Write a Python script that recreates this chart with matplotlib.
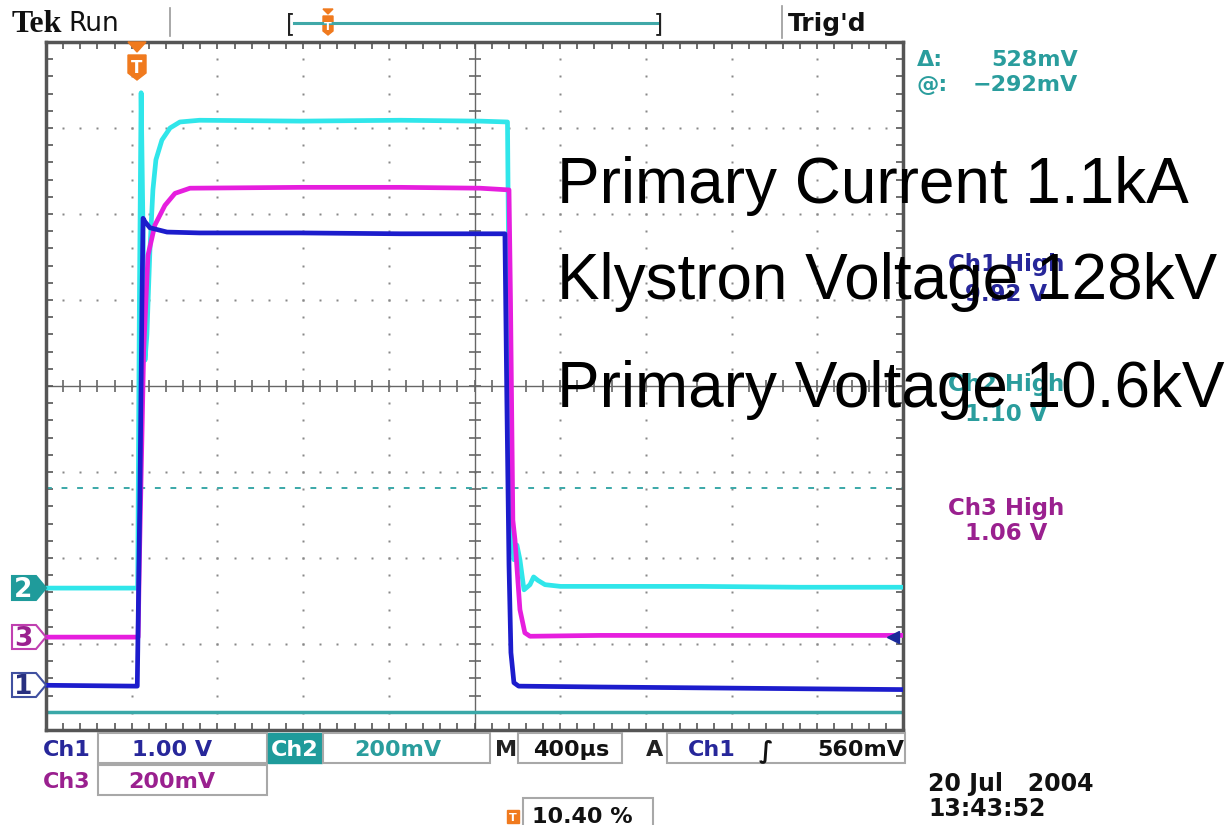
import matplotlib
matplotlib.use("Agg")
import matplotlib.pyplot as plt
from matplotlib.patches import Polygon, Rectangle
from matplotlib.lines import Line2D
import numpy as np

# ---------------- data (time in µs relative to trigger, level in screen divisions) ----
time_ch2 = [-416, 12, 20, 28, 38, 46, 55, 69, 83, 97, 125, 163, 209, 300, 770, 1240, 1610,
            1738, 1745, 1754, 1768, 1782, 1796, 1815, 1843, 1860, 1880, 1913, 1985, 2170,
            2640, 3100, 3584]
level_ch2 = [1.65, 1.65, 5.00, 7.41, 5.60, 4.30, 4.60, 5.58, 6.28, 6.63, 6.86, 7.00, 7.07,
             7.09, 7.08, 7.09, 7.08, 7.07, 5.00, 2.44, 1.98, 2.15, 1.98, 1.63, 1.69, 1.78,
             1.74, 1.69, 1.67, 1.67, 1.67, 1.66, 1.66]

time_ch3 = [-416, 14, 20, 40, 60, 92, 139, 186, 256, 770, 1240, 1610, 1745, 1752, 1763,
            1773, 1796, 1819, 1843, 2170, 3584]
level_ch3 = [1.08, 1.08, 1.98, 4.42, 5.52, 5.87, 6.10, 6.24, 6.30, 6.31, 6.31, 6.30, 6.28,
             5.00, 2.44, 2.21, 1.40, 1.13, 1.09, 1.10, 1.10]

time_ch1 = [-416, 4, 10, 22, 32, 37, 46, 69, 149, 300, 770, 1240, 1726, 1735, 1745, 1754,
            1768, 1790, 2170, 2640, 3100, 3584]
level_ch1 = [0.52, 0.51, 0.51, 2.67, 5.00, 5.95, 5.91, 5.84, 5.79, 5.78, 5.78, 5.77, 5.77,
             3.84, 1.92, 0.90, 0.55, 0.51, 0.50, 0.49, 0.48, 0.47]

cursor_levels = [0.21, 2.81]          # cursor 1 (solid), cursor 2 (dashed)
trigger_level = 1.08
x_range = (-416, 3584)                # 10 div x 400 µs, trigger at 10.40 %
n_xdiv, n_ydiv = 10, 8

overlay_labels = ["Primary Current 1.1kA", "Klystron Voltage 128kV", "Primary Voltage 10.6kV"]
high_labels = [("Ch1 High", "9.92 V"), ("Ch2 High", "1.10 V"), ("Ch3 High", "1.06 V")]

# ---------------- colours ----------------
C_CH1 = "#1c1ccc"
C_CH2 = "#30e6ea"
C_CH3 = "#e61ede"
T_CH1 = "#27279a"
T_CH2 = "#2a9d9d"
T_CH3 = "#9a208f"
ORANGE = "#f07a1e"
FRAME = "#555555"

W, H = 1231, 825
fig = plt.figure(figsize=(W / 100, H / 100), dpi=100)
fig.patch.set_facecolor("white")


def fx(x):
    return x / W


def fy(y):
    return 1 - y / H


L, R, T, B = 46, 903, 42, 730
ax = fig.add_axes([fx(L), fy(B), (R - L) / W, (B - T) / H])
ax.set_xlim(*x_range)
ax.set_ylim(0, n_ydiv)
ax.set_facecolor("white")
for s in ax.spines.values():
    s.set_color(FRAME)
    s.set_linewidth(2.5)

xstep = (x_range[1] - x_range[0]) / n_xdiv
ax.set_xticks(np.arange(x_range[0], x_range[1] + 1, xstep / 5))
ax.set_yticks(np.arange(0, n_ydiv + 0.01, 0.2))
ax.tick_params(direction="in", length=5, width=1.2, color=FRAME, top=True, right=True,
               labelbottom=False, labelleft=False)

# graticule dots
dot_kw = dict(transform=ax.transAxes, ls="none", marker="s", ms=1.9, color="#888888",
              mec="none", zorder=1)
for k in range(1, n_xdiv):
    if k == n_xdiv // 2:
        continue
    ys = np.arange(0, n_ydiv * 5 + 1) / (n_ydiv * 5)
    ax.plot(np.full_like(ys, k / n_xdiv), ys, **dot_kw)
for k in range(1, n_ydiv):
    if k == n_ydiv // 2:
        continue
    xs = np.arange(0, n_xdiv * 5 + 1) / (n_xdiv * 5)
    ax.plot(xs, np.full_like(xs, k / n_ydiv), **dot_kw)
# centre cross with ticks
ax.plot([0.5, 0.5], [0, 1], transform=ax.transAxes, color="#666666", lw=1, zorder=1)
ax.plot([0, 1], [0.5, 0.5], transform=ax.transAxes, color="#666666", lw=1, zorder=1)
ys = np.arange(0, n_ydiv * 5 + 1) / (n_ydiv * 5)
ax.plot(np.full_like(ys, 0.5), ys, transform=ax.transAxes, ls="none", marker="_", ms=9,
        mew=1.2, color="#666666", zorder=1)
xs = np.arange(0, n_xdiv * 5 + 1) / (n_xdiv * 5)
ax.plot(xs, np.full_like(xs, 0.5), transform=ax.transAxes, ls="none", marker="|", ms=9,
        mew=1.2, color="#666666", zorder=1)

# cursors
ax.axhline(cursor_levels[0], color="#3aa8a8", lw=2.5, zorder=2)
ax.axhline(cursor_levels[1], color="#3aa8a8", lw=1.4, ls=(0, (3, 5)), zorder=2)

# traces
ax.plot(time_ch2, level_ch2, color=C_CH2, lw=3.4, zorder=3, solid_joinstyle="round")
ax.plot(time_ch3, level_ch3, color=C_CH3, lw=3.4, zorder=4, solid_joinstyle="round")
ax.plot(time_ch1, level_ch1, color=C_CH1, lw=3.4, zorder=5, solid_joinstyle="round")

# trigger level marker
ax.plot([x_range[1] - 0.012 * (x_range[1] - x_range[0])], [trigger_level], marker="<",
        color="#1a2a9a", ms=8, ls="none", clip_on=False, zorder=6)


# ---------------- figure-level decorations (pixel helpers) ----------------
def poly(pts, **kw):
    p = Polygon([(fx(x), fy(y)) for x, y in pts], closed=True, transform=fig.transFigure, **kw)
    fig.add_artist(p)


def rect(x0, y0, x1, y1, **kw):
    r = Rectangle((fx(x0), fy(y1)), (x1 - x0) / W, (y1 - y0) / H, transform=fig.transFigure, **kw)
    fig.add_artist(r)


def line(xs, ys, **kw):
    fig.add_artist(Line2D([fx(x) for x in xs], [fy(y) for y in ys], transform=fig.transFigure, **kw))


def txt(x, y, s, **kw):
    kw.setdefault("family", "DejaVu Sans")
    kw.setdefault("va", "baseline")
    fig.text(fx(x), fy(y), s, **kw)


# trigger marker on graticule
poly([(128, 42), (146, 42), (137, 52)], fc=ORANGE, ec=ORANGE, zorder=10)
poly([(128, 55), (146, 55), (146, 73), (137, 80), (128, 73)], fc=ORANGE, ec=ORANGE, zorder=10)
txt(137, 73, "T", color="white", fontsize=12, weight="bold", ha="center", zorder=11)

# channel markers
marks = [("2", 588, "#1f9b9b", "#1f9b9b", "white"),
         ("3", 637, "white", "#c040b0", T_CH3),
         ("1", 685, "white", "#4050a0", "#283080")]
for lab, yc, fc, ec, tc in marks:
    poly([(12, yc - 12), (36, yc - 12), (46, yc), (36, yc + 12), (12, yc + 12)], fc=fc, ec=ec,
         lw=1.5, zorder=10)
    txt(23, yc + 9, lab, color=tc, fontsize=19, weight="bold", ha="center", zorder=11)

# top status bar
txt(12, 32, "Tek", family="Liberation Serif", fontsize=23, weight="bold", color="#111111")
txt(68, 31, "Run", fontsize=19, color="#111111")
line([170, 170], [8, 36], color="#999999", lw=1.2)
line([782, 782], [6, 38], color="#999999", lw=1.2)
txt(788, 31, "Trig'd", fontsize=18, weight="bold", color="#111111")
line([294, 657], [23, 23], color="#40a8a8", lw=2.2)
txt(286, 31, "[", fontsize=17, color="#222222")
txt(654, 31, "]", fontsize=17, color="#222222")
poly([(323, 9), (333, 9), (328, 14)], fc=ORANGE, ec=ORANGE)
poly([(323, 16), (333, 16), (333, 31), (328, 35), (323, 31)], fc=ORANGE, ec=ORANGE)
txt(328, 30, "T", color="white", fontsize=8, weight="bold", ha="center")

# cursor readout
txt(917, 66, "Δ:", fontsize=16, weight="bold", color=T_CH2)
txt(1078, 66, "528mV", fontsize=16, weight="bold", color=T_CH2, ha="right")
txt(917, 91, "@:", fontsize=16, weight="bold", color=T_CH2)
txt(1078, 91, "\u2212292mV", fontsize=16, weight="bold", color=T_CH2, ha="right")

# measurement labels (under the overlay text)
hl_cols = [T_CH1, T_CH2, T_CH3]
hl_y = [(271, 301), (391, 421), (515, 540)]
for (a, b), c, (y1, y2) in zip(high_labels, hl_cols, hl_y):
    txt(1006, y1, a, fontsize=16.5, weight="bold", color=c, ha="center", zorder=2)
    txt(1006, y2, b, fontsize=16.5, weight="bold", color=c, ha="center", zorder=2)

# bottom settings bar
box = dict(fc="none", ec="#a8a8a8", lw=1.5)
rect(98, 733, 267, 763, **box)
rect(268, 733, 322, 763, fc="#1f9b9b", ec="#1f9b9b")
rect(323, 733, 490, 763, **box)
rect(518, 733, 622, 763, **box)
rect(667, 733, 905, 763, **box)
rect(98, 765, 267, 795, **box)
rect(523, 798, 653, 828, **box)
bkw = dict(fontsize=16, weight="bold")
txt(43, 756, "Ch1", color=T_CH1, **bkw)
txt(172, 756, "1.00 V", color=T_CH1, ha="center", **bkw)
txt(295, 756, "Ch2", color="white", ha="center", **bkw)
txt(398, 756, "200mV", color=T_CH2, ha="center", **bkw)
txt(495, 756, "M", color="#222222", **bkw)
txt(571, 756, "400µs", color="#111111", ha="center", **bkw)
txt(646, 756, "A", color="#222222", **bkw)
txt(688, 756, "Ch1", color=T_CH1, **bkw)
txt(766, 757, "\u222b", color="#111111", ha="center", fontsize=17, weight="bold")
txt(904, 756, "560mV", color="#111111", ha="right", **bkw)
txt(43, 788, "Ch3", color=T_CH3, **bkw)
txt(172, 788, "200mV", color=T_CH3, ha="center", **bkw)
rect(507, 810, 519, 823, fc=ORANGE, ec=ORANGE)
txt(513, 821, "T", color="white", fontsize=8, weight="bold", ha="center")
txt(532, 823, "10.40 %", color="#111111", **bkw)
txt(928, 791, "20 Jul   2004", color="#111111", fontsize=17, weight="bold")
txt(928, 816, "13:43:52", color="#111111", fontsize=17, weight="bold")

# overlay annotations
for s, yb in zip(overlay_labels, [203, 299, 407]):
    txt(557, yb, s, family="Liberation Sans", fontsize=46, color="black", zorder=20)

fig.savefig("out.png", dpi=100, facecolor="white")
